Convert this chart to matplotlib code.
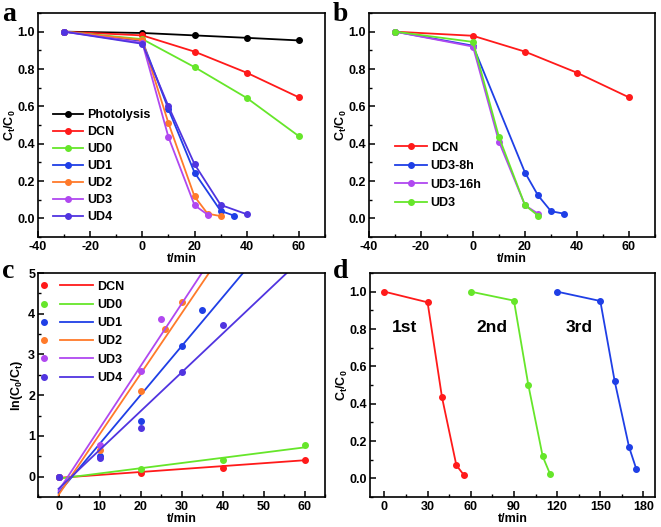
import numpy as np
import matplotlib.pyplot as plt
from matplotlib.ticker import MultipleLocator, FormatStrFormatter

plt.rcParams['font.family'] = ['Liberation Sans', 'DejaVu Sans']
plt.rcParams['font.weight'] = 'bold'
plt.rcParams['axes.unicode_minus'] = False
plt.rcParams['mathtext.fontset'] = 'custom'
plt.rcParams['mathtext.rm'] = 'Liberation Sans:bold'
plt.rcParams['mathtext.bf'] = 'Liberation Sans:bold'
plt.rcParams['mathtext.it'] = 'Liberation Sans:bold'

# colours (Origin style)
BLACK = '#000000'
RED = '#ff1a1a'
GREEN = '#66e62a'
BLUE = '#1f3fe6'
ORANGE = '#ff7a2a'
PURPLE = '#b048f0'
INDIGO = '#5034e0'

# ---- panel a data ----
a_names = ['Photolysis', 'DCN', 'UD0', 'UD1', 'UD2', 'UD3', 'UD4']
a_colors = [BLACK, RED, GREEN, BLUE, ORANGE, PURPLE, INDIGO]
a_t = [
    [-30, 0, 20, 40, 60],
    [-30, 0, 20, 40, 60],
    [-30, 0, 20, 40, 60],
    [-30, 0, 10, 20, 30, 35],
    [-30, 0, 10, 20, 25, 30],
    [-30, 0, 10, 20, 25],
    [-30, 0, 10, 20, 30, 40],
]
a_c = [
    [1.0, 0.993, 0.98, 0.967, 0.953],
    [1.0, 0.98, 0.893, 0.78, 0.648],
    [1.0, 0.96, 0.81, 0.645, 0.44],
    [1.0, 0.95, 0.585, 0.245, 0.04, 0.015],
    [1.0, 0.955, 0.51, 0.117, 0.025, 0.012],
    [1.0, 0.94, 0.435, 0.07, 0.02],
    [1.0, 0.935, 0.60, 0.29, 0.072, 0.022],
]

# ---- panel b data ----
b_names = ['DCN', 'UD3-8h', 'UD3-16h', 'UD3']
b_colors = [RED, BLUE, PURPLE, GREEN]
b_t = [
    [-30, 0, 20, 40, 60],
    [-30, 0, 20, 25, 30, 35],
    [-30, 0, 10, 20, 25],
    [-30, 0, 10, 20, 25],
]
b_c = [
    [1.0, 0.978, 0.893, 0.78, 0.648],
    [1.0, 0.925, 0.245, 0.123, 0.038, 0.025],
    [1.0, 0.92, 0.41, 0.07, 0.025],
    [1.0, 0.945, 0.435, 0.07, 0.015],
]

# ---- panel c data: ln(C0/Ct) points and linear fits ----
c_names = ['DCN', 'UD0', 'UD1', 'UD2', 'UD3', 'UD4']
c_colors = [RED, GREEN, BLUE, ORANGE, PURPLE, INDIGO]
c_t = [
    [0, 20, 40, 60],
    [0, 20, 40, 60],
    [0, 10, 20, 30, 35],
    [0, 10, 20, 26, 30],
    [0, 10, 20, 25],
    [0, 10, 20, 30, 40],
]
c_y = [
    [0.0, 0.09, 0.22, 0.40],
    [0.0, 0.18, 0.40, 0.78],
    [0.0, 0.50, 1.37, 3.20, 4.10],
    [0.0, 0.65, 2.10, 3.63, 4.28],
    [0.0, 0.78, 2.60, 3.87],
    [0.0, 0.46, 1.19, 2.58, 3.72],
]
c_slope = [0.0072, 0.0128, 0.120, 0.1485, 0.153, 0.0952]
c_icpt = [-0.03, -0.05, -0.40, -0.45, -0.35, -0.30]

# ---- panel d data: cycles ----
d_labels = ['1st', '2nd', '3rd']
d_colors = [RED, GREEN, BLUE]
d_t = [
    [0, 30, 40, 50, 55],
    [60, 90, 100, 110, 115],
    [120, 150, 160, 170, 175],
]
d_c = [
    [1.0, 0.943, 0.435, 0.07, 0.02],
    [1.0, 0.952, 0.50, 0.117, 0.025],
    [1.0, 0.95, 0.52, 0.167, 0.05],
]
d_text_x = [14, 75, 135]


def style(ax, xmaj, xmin, ymaj, ymin, yfmt):
    for s in ax.spines.values():
        s.set_linewidth(1.2)
    ax.xaxis.set_major_locator(MultipleLocator(xmaj))
    ax.xaxis.set_minor_locator(MultipleLocator(xmin))
    ax.yaxis.set_major_locator(MultipleLocator(ymaj))
    ax.yaxis.set_minor_locator(MultipleLocator(ymin))
    if yfmt:
        ax.yaxis.set_major_formatter(FormatStrFormatter(yfmt))
    ax.tick_params(which='major', direction='in', length=4, width=1.1,
                   labelsize=9, pad=3)
    ax.tick_params(axis='y', which='major', pad=2)
    ax.tick_params(which='minor', direction='in', length=2.5, width=1.0)
    ax.set_xlabel('t/min', fontsize=9, fontweight='bold', labelpad=0)


fig = plt.figure(figsize=(6.61, 5.27), dpi=100)
W, H = 661, 527


def add_axes(l, r, t, b):
    return fig.add_axes([l / W, 1 - b / H, (r - l) / W, (b - t) / H])


axa = add_axes(38, 325, 13, 237)
axb = add_axes(369, 655, 13, 237)
axc = add_axes(38, 325, 273, 497)
axd = add_axes(370, 655, 273, 497)

ms = 4
lw = 1.3
leg_kw = dict(frameon=False, borderaxespad=0, borderpad=0.2,
              prop={'weight': 'bold', 'size': 9}, loc='upper left')

# panel a
for t, c, name, col in zip(a_t, a_c, a_names, a_colors):
    axa.plot(t, c, '-o', color=col, lw=lw, ms=ms, label=name)
axa.set_xlim(-40, 70)
axa.set_ylim(-0.1, 1.1)
style(axa, 20, 10, 0.2, 0.1, '%.1f')
axa.set_ylabel(r'$\mathbf{C_t/C_0}$', fontsize=9, labelpad=0)
axa.legend(bbox_to_anchor=(0.044, 0.582), handlelength=2.4,
           handletextpad=0.3, labelspacing=0.40, **leg_kw)

# panel b
for t, c, name, col in zip(b_t, b_c, b_names, b_colors):
    axb.plot(t, c, '-o', color=col, lw=lw, ms=ms, label=name)
axb.set_xlim(-40, 70)
axb.set_ylim(-0.1, 1.1)
style(axb, 20, 10, 0.2, 0.1, '%.1f')
axb.set_ylabel(r'$\mathbf{C_t/C_0}$', fontsize=9, labelpad=0)
axb.legend(bbox_to_anchor=(0.082, 0.437), handlelength=2.56,
           handletextpad=0.3, labelspacing=0.52, **leg_kw)

# panel c
fit_x = np.array([0, 60])
dots = []
lines = []
for t, y, k, b0, name, col in zip(c_t, c_y, c_slope, c_icpt, c_names, c_colors):
    d, = axc.plot(t, y, 'o', color=col, ms=ms, ls='none')
    ln, = axc.plot(fit_x, k * fit_x + b0, '-', color=col, lw=lw)
    dots.append(d)
    lines.append(ln)
axc.set_xlim(-5, 65)
axc.set_ylim(-0.5, 5)
style(axc, 10, 5, 1, 0.5, None)
axc.set_ylabel(r'$\mathbf{ln(C_0/C_t)}$', fontsize=9, labelpad=2)
leg_lines = axc.legend(lines, c_names, bbox_to_anchor=(0.068, 0.977),
                       handlelength=2.64, handletextpad=0.3,
                       labelspacing=0.5, **leg_kw)
axc.add_artist(leg_lines)
axc.legend(dots, [' '] * len(dots), bbox_to_anchor=(0.002, 0.977),
           handlelength=0.5, handletextpad=0.0, labelspacing=0.5, **leg_kw)

# panel d
for t, c, lab, col, tx in zip(d_t, d_c, d_labels, d_colors, d_text_x):
    axd.plot(t, c, '-o', color=col, lw=lw, ms=ms)
    axd.text(tx, 0.81, lab, fontsize=12.5, fontweight='bold',
             ha='center', va='center')
axd.set_xlim(-10, 188)
axd.set_ylim(-0.1, 1.1)
style(axd, 30, 15, 0.2, 0.1, '%.1f')
axd.set_ylabel(r'$\mathbf{C_t/C_0}$', fontsize=9, labelpad=0)

# panel letters
for lab, x, y in [('a', 2, 2), ('b', 333, 2), ('c', 2, 259), ('d', 333, 259)]:
    fig.text(x / W, 1 - y / H, lab, family='Liberation Serif',
             fontweight='bold', fontsize=20, va='top', ha='left')

fig.savefig('out.png', dpi=100)
